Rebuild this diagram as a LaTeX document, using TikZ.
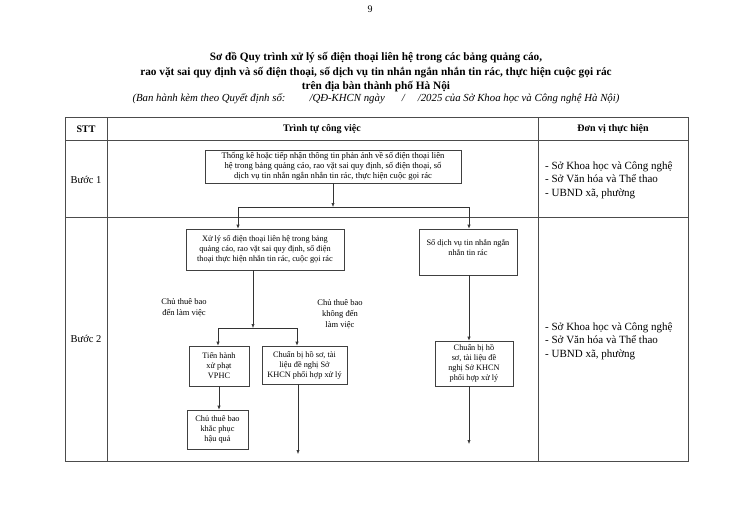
\documentclass[tikz,border=0pt]{standalone}
\usepackage{fontspec}
\setmainfont{Liberation Serif}
\usetikzlibrary{arrows.meta,calc}
\begin{document}
\begin{tikzpicture}[x=1pt,y=-1pt,
  tline/.style={draw=black!70,line width=0.8pt},
  box/.style={draw=black!75,line width=0.6pt,rectangle,inner sep=1pt,align=center,
    font=\fontsize{8.3}{10}\selectfont},
  conn/.style={draw=black!80,line width=0.6pt},
  arr/.style={conn,-{Latex[length=4pt,width=3.2pt]}},
  lbl/.style={align=center,font=\fontsize{8.5}{11}\selectfont,inner sep=0pt},
  cell/.style={align=left,font=\fontsize{11}{13.4}\selectfont,inner sep=0pt,anchor=west},
  hdr/.style={font=\bfseries\fontsize{10}{11}\selectfont,inner sep=0pt},
  stp/.style={font=\fontsize{10.5}{11}\selectfont,inner sep=0pt}]
\useasboundingbox[fill=white] (0,0) rectangle (740,523);
% page number and titles
\node[font=\fontsize{10}{11}\selectfont,inner sep=0pt] (pg) at (370,9) {9};
\node[font=\bfseries\fontsize{11.3}{14.5}\selectfont,align=center,inner sep=0pt] (ttl) at (376,72.5)
 {Sơ đồ Quy trình xử lý số điện thoại liên hệ trong các bảng quảng cáo,\\
  rao vặt sai quy định và số điện thoại, số dịch vụ tin nhắn ngắn nhắn tin rác, thực hiện cuộc gọi rác\\
  trên địa bàn thành phố Hà Nội};
\node[font=\itshape\fontsize{10.8}{12}\selectfont,inner sep=0pt] (sub) at (376,99)
 {(Ban hành kèm theo Quyết định số:\hspace{24pt}/QĐ-KHCN ngày\hspace{17pt}/\hspace{13pt}/2025 của Sở Khoa học và Công nghệ Hà Nội)};
% table
\draw[tline] (65,117) rectangle (688,461);
\draw[tline] (107,117) -- (107,461);
\draw[tline] (538,117) -- (538,461);
\draw[tline] (65,140) -- (688,140);
\draw[tline] (65,217) -- (688,217);
\node[hdr] (h1) at (86,129) {STT};
\node[hdr] (h2) at (322,129) {Trình tự công việc};
\node[hdr] (h3) at (613,129) {Đơn vị thực hiện};
\node[stp] (b1) at (86,180) {Bước 1};
\node[stp] (b2) at (86,339) {Bước 2};
\node[cell] (u1) at (545,180) {- Sở Khoa học và Công nghệ\\- Sở Văn hóa và Thể thao\\- UBND xã, phường};
\node[cell] (u2) at (545,341) {- Sở Khoa học và Công nghệ\\- Sở Văn hóa và Thể thao\\- UBND xã, phường};
% boxes
\node[box,minimum width=256pt,minimum height=33pt,font=\fontsize{8.6}{10}\selectfont] (s1) at (333,166.5)
 {Thống kê hoặc tiếp nhận thông tin phản ánh về số điện thoại liên\\hệ trong bảng quảng cáo, rao vặt sai quy định, số điện thoại, số\\dịch vụ tin nhắn ngắn nhắn tin rác, thực hiện cuộc gọi rác};
\node[box,minimum width=158pt,minimum height=41pt] (a) at (265,249.5)
 {Xử lý số điện thoại liên hệ trong bảng\\quảng cáo, rao vặt sai quy định, số điện\\thoại thực hiện nhắn tin rác, cuộc gọi rác};
\node[box,minimum width=98pt,minimum height=46pt] (b) at (468,252)
 {Số dịch vụ tin nhắn ngắn\\nhắn tin rác\\[0pt]};
\node[box,minimum width=60pt,minimum height=40pt] (c) at (219,366)
 {Tiến hành\\xử phạt\\VPHC};
\node[box,minimum width=85pt,minimum height=38pt] (d) at (304.5,365)
 {Chuẩn bị hồ sơ, tài\\liệu đề nghị Sở\\KHCN phối hợp xử lý};
\node[box,minimum width=61pt,minimum height=39pt] (e) at (217.5,429.5)
 {Chủ thuê bao\\khắc phục\\hậu quả};
\node[box,minimum width=78pt,minimum height=45pt] (f) at (474,363.5)
 {Chuẩn bị hồ\\sơ, tài liệu đề\\nghị Sở KHCN\\phối hợp xử lý};
% labels
\node[lbl] (l1) at (184,308) {Chủ thuê bao\\đến làm việc};
\node[lbl] (l2) at (340,314) {Chủ thuê bao\\không đến\\làm việc};
% connectors
\coordinate (j0) at (333,207);
\coordinate (jl) at (238,207);
\coordinate (jr) at (469,207);
\draw[arr] (s1.south) -- (j0);
\draw[conn] (jl) -- (jr);
\draw[arr] (jl) -- (jl |- a.north);
\draw[arr] (jr) -- (jr |- b.north);
\coordinate (ka) at (253,328);
\coordinate (kl) at (218,328);
\coordinate (kr) at (297,328);
\draw[arr] (ka |- a.south) -- (ka);
\draw[conn] (kl) -- (kr);
\draw[arr] (kl) -- (kl |- c.north);
\draw[arr] (kr) -- (kr |- d.north);
\draw[arr] (c.south -| 219,0) -- (219,0 |- e.north);
\coordinate (dend) at (298,454);
\draw[arr] (dend |- d.south) -- (dend);
\draw[arr] (b.south -| 469,0) -- (469,0 |- f.north);
\coordinate (fend) at (469,444);
\draw[arr] (fend |- f.south) -- (fend);
\end{tikzpicture}
\end{document}
